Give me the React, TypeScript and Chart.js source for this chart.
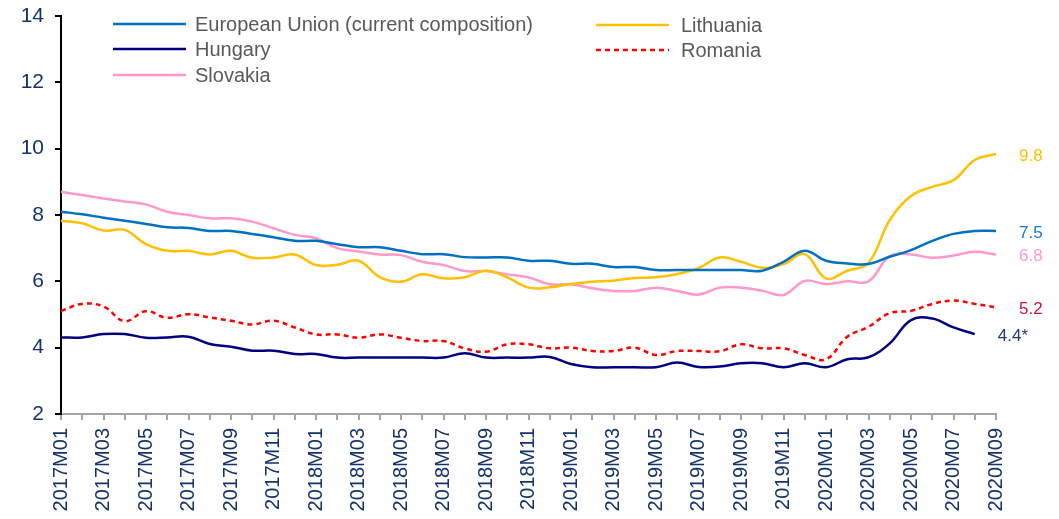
import React, { useEffect, useRef } from 'react';
import { Chart, registerables } from 'chart.js';

Chart.register(...registerables);

const months = [
  '2017M01', '2017M02', '2017M03', '2017M04', '2017M05', '2017M06', '2017M07', '2017M08', '2017M09', '2017M10', '2017M11', '2017M12',
  '2018M01', '2018M02', '2018M03', '2018M04', '2018M05', '2018M06', '2018M07', '2018M08', '2018M09', '2018M10', '2018M11', '2018M12',
  '2019M01', '2019M02', '2019M03', '2019M04', '2019M05', '2019M06', '2019M07', '2019M08', '2019M09', '2019M10', '2019M11', '2019M12',
  '2020M01', '2020M02', '2020M03', '2020M04', '2020M05', '2020M06', '2020M07', '2020M08', '2020M09',
];

const euValues = [
  8.1, 8.02, 7.92, 7.83, 7.73, 7.63, 7.61, 7.52, 7.52, 7.43,
  7.33, 7.22, 7.22, 7.12, 7.03, 7.03, 6.92, 6.82, 6.82, 6.73,
  6.72, 6.72, 6.62, 6.62, 6.53, 6.53, 6.43, 6.43, 6.34, 6.34,
  6.34, 6.34, 6.34, 6.32, 6.59, 6.92, 6.62, 6.54, 6.52, 6.74,
  6.94, 7.22, 7.43, 7.52, 7.52,
];

const lithuaniaValues = [
  7.83, 7.75, 7.53, 7.55, 7.12, 6.92, 6.92, 6.81, 6.92, 6.71,
  6.72, 6.81, 6.49, 6.5, 6.62, 6.13, 5.99, 6.21, 6.09, 6.12,
  6.32, 6.12, 5.81, 5.82, 5.92, 5.99, 6.02, 6.1, 6.12, 6.22,
  6.4, 6.72, 6.59, 6.41, 6.52, 6.82, 6.09, 6.32, 6.56, 7.85,
  8.57, 8.85, 9.05, 9.66, 9.84,
];

const hungaryValues = [
  4.31, 4.31, 4.41, 4.41, 4.3, 4.31, 4.33, 4.11, 4.03, 3.91,
  3.91, 3.81, 3.81, 3.7, 3.7, 3.7, 3.7, 3.7, 3.7, 3.83,
  3.7, 3.7, 3.7, 3.72, 3.51, 3.41, 3.41, 3.41, 3.41, 3.55,
  3.42, 3.43, 3.53, 3.53, 3.41, 3.53, 3.41, 3.65, 3.71, 4.13,
  4.83, 4.88, 4.61, 4.41, null,
];

const romaniaValues = [
  5.11, 5.32, 5.24, 4.8, 5.1, 4.9, 5.01, 4.91, 4.81, 4.7,
  4.81, 4.61, 4.4, 4.4, 4.3, 4.4, 4.3, 4.2, 4.2, 3.98,
  3.88, 4.1, 4.1, 3.98, 4.0, 3.9, 3.9, 4.0, 3.78, 3.9,
  3.9, 3.89, 4.1, 3.98, 3.98, 3.78, 3.65, 4.33, 4.63, 5.04,
  5.11, 5.32, 5.42, 5.32, 5.22,
];

const slovakiaValues = [
  8.7, 8.6, 8.5, 8.41, 8.32, 8.1, 8.0, 7.9, 7.9, 7.8,
  7.6, 7.4, 7.3, 7.0, 6.9, 6.81, 6.79, 6.59, 6.49, 6.31,
  6.31, 6.21, 6.12, 5.91, 5.91, 5.79, 5.71, 5.71, 5.81, 5.71,
  5.6, 5.81, 5.81, 5.72, 5.59, 6.01, 5.92, 6.0, 6.0, 6.76,
  6.81, 6.71, 6.78, 6.89, 6.81,
];

const seriesNames = [
  'European Union (current composition)',
  'Lithuania',
  'Hungary',
  'Romania',
  'Slovakia',
];

const endLabels = ['7.5', '9.8', '4.4*', '5.2', '6.8'];

const yTicks = [2, 4, 6, 8, 10, 12, 14];

const FONT = "'Liberation Sans', Arial, sans-serif";

export default function App() {
  const ref = useRef<HTMLCanvasElement>(null);

  useEffect(() => {
    const canvas = ref.current;
    if (!canvas) return;

    const lineColors = ['#0070C0', '#FFC000', '#000080', '#FF0000', '#FF99CC'];
    const labelColors = ['#1F7AC8', '#FFC000', '#1F3A7A', '#CC1640', '#FF99CC'];
    const dashes = [[], [], [], [5, 4], []];
    const valuesList = [euValues, lithuaniaValues, hungaryValues, romaniaValues, slovakiaValues];

    const legendPlugin = {
      id: 'customLegend',
      afterDraw(chart: any) {
        const c = chart.ctx as CanvasRenderingContext2D;
        const slots = [
          { x: 113, y: 24, tx: 195 },
          { x: 596, y: 25, tx: 681 },
          { x: 113, y: 49, tx: 195 },
          { x: 596, y: 50, tx: 681 },
          { x: 113, y: 75, tx: 195 },
        ];
        c.save();
        slots.forEach((s, i) => {
          c.beginPath();
          c.strokeStyle = lineColors[i];
          c.lineWidth = 2.5;
          c.setLineDash(dashes[i]);
          c.moveTo(s.x, s.y);
          c.lineTo(s.x + 73, s.y);
          c.stroke();
          c.setLineDash([]);
          c.fillStyle = '#595959';
          c.font = `20px ${FONT}`;
          c.textBaseline = 'middle';
          c.textAlign = 'left';
          c.fillText(seriesNames[i], s.tx, s.y + 1);
        });
        c.restore();
      },
    };

    const endLabelPlugin = {
      id: 'endLabels',
      afterDatasetsDraw(chart: any) {
        const c = chart.ctx as CanvasRenderingContext2D;
        c.save();
        c.font = `17px ${FONT}`;
        c.textBaseline = 'middle';
        c.textAlign = 'left';
        chart.data.datasets.forEach((ds: any, i: number) => {
          const meta = chart.getDatasetMeta(i);
          let idx = ds.data.length - 1;
          while (idx >= 0 && (ds.data[idx] === null || ds.data[idx] === undefined)) idx--;
          if (idx < 0) return;
          const pt = meta.data[idx];
          c.fillStyle = labelColors[i];
          c.fillText(endLabels[i], pt.x + 23, pt.y + 2);
        });
        c.restore();
      },
    };

    const chart = new Chart(canvas, {
      type: 'line',
      data: {
        labels: months,
        datasets: valuesList.map((vals, i) => ({
          label: seriesNames[i],
          data: vals,
          borderColor: lineColors[i],
          backgroundColor: lineColors[i],
          borderWidth: 2.5,
          borderDash: dashes[i],
          pointRadius: 0,
          pointHoverRadius: 0,
          tension: 0.4,
          fill: false,
          spanGaps: false,
        })),
      },
      options: {
        responsive: false,
        animation: false,
        events: [],
        layout: { padding: { top: 16, right: 63, left: 0, bottom: 0 } },
        plugins: {
          legend: { display: false },
          tooltip: { enabled: false },
          title: { display: false },
        },
        scales: {
          x: {
            type: 'category',
            offset: false,
            afterFit(scale: any) {
              scale.height = 105;
              scale.paddingLeft = 0;
              scale.paddingRight = 0;
            },
            grid: {
              display: true,
              drawOnChartArea: false,
              drawTicks: true,
              tickLength: 6,
              color: '#A6A6A6',
              lineWidth: 2,
            },
            border: { display: true, color: '#A6A6A6', width: 2 },
            ticks: {
              autoSkip: false,
              maxRotation: 90,
              minRotation: 90,
              padding: 8,
              color: '#14336A',
              font: { family: FONT, size: 20 },
              callback: (_v: any, i: number) => (i % 2 === 0 ? months[i] : ''),
            },
          },
          y: {
            min: yTicks[0],
            max: yTicks[yTicks.length - 1],
            afterFit(scale: any) {
              scale.width = 61;
              scale.paddingTop = 0;
              scale.paddingBottom = 0;
            },
            afterBuildTicks(scale: any) {
              scale.ticks = yTicks.map((v) => ({ value: v }));
            },
            grid: {
              display: true,
              drawOnChartArea: false,
              drawTicks: true,
              tickLength: 6,
              color: '#000000',
              lineWidth: 2,
            },
            border: { display: true, color: '#000000', width: 2 },
            ticks: {
              padding: 11,
              color: '#14336A',
              font: { family: FONT, size: 21 },
            },
          },
        },
      },
      plugins: [legendPlugin, endLabelPlugin],
    } as any);

    return () => chart.destroy();
  }, []);

  return (
    <div style={{ position: 'absolute', left: 0, top: 0, width: 1059, height: 519, background: '#fff' }}>
      <canvas ref={ref} width={1059} height={519} style={{ width: 1059, height: 519 }} />
    </div>
  );
}
